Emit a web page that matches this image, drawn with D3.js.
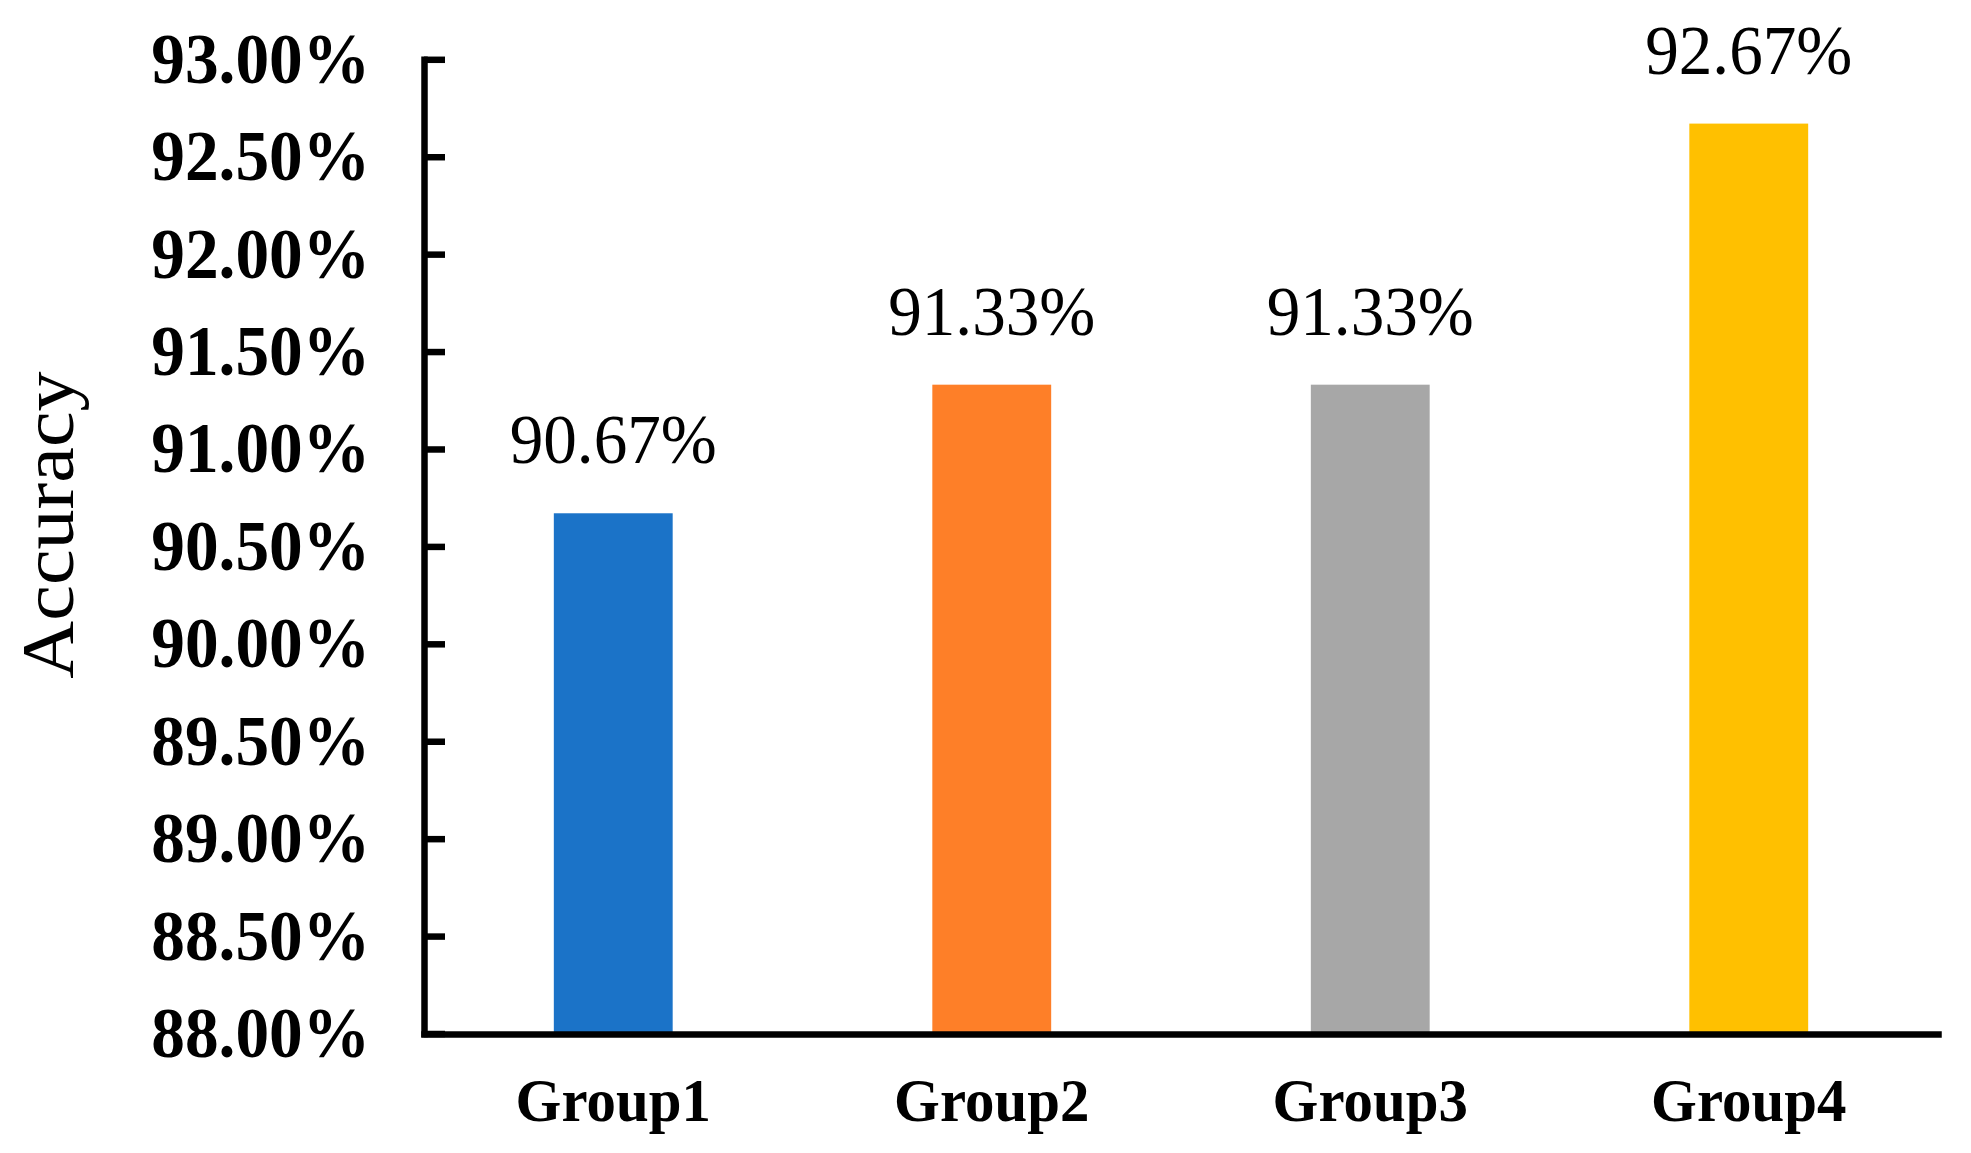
<!DOCTYPE html>
<html>
<head>
<meta charset="utf-8">
<script src="https://cdn.jsdelivr.net/npm/d3@7"></script>
<style>
  html, body { margin: 0; padding: 0; background: #fff; }
  svg { display: block; }
  text { font-family: "Liberation Serif", "Times New Roman", serif; fill: #000; }
</style>
</head>
<body>
<svg id="chart" width="1971" height="1153"></svg>
<script>
const categories = ["Group1", "Group2", "Group3", "Group4"];
const accuracy = [90.67, 91.33, 91.33, 92.67];
const barColors = ["#1b73c8", "#fe7f28", "#a7a7a7", "#ffc000"];
const yTicks = [88.0, 88.5, 89.0, 89.5, 90.0, 90.5, 91.0, 91.5, 92.0, 92.5, 93.0];
const yTickLabels = ["88.00%", "88.50%", "89.00%", "89.50%", "90.00%", "90.50%", "91.00%", "91.50%", "92.00%", "92.50%", "93.00%"];
const valueLabels = ["90.67%", "91.33%", "91.33%", "92.67%"];
const yTitle = "Accuracy";

const svg = d3.select("#chart");
const axisX = 424, axisTop = 59.3, axisBottom = 1033.5, axisRight = 1938;

const y = d3.scaleLinear().domain([88, 93]).range([axisBottom, axisTop]);
const x = d3.scaleBand().domain(categories).range([axisX, axisRight])
  .paddingInner(0.686).paddingOuter(0.343);

// bars
svg.append("g").selectAll("rect").data(categories).join("rect")
  .attr("x", d => x(d))
  .attr("width", x.bandwidth())
  .attr("y", (d, i) => y(accuracy[i]))
  .attr("height", (d, i) => y(88) - y(accuracy[i]))
  .attr("fill", (d, i) => barColors[i]);

// value labels
svg.append("g").selectAll("text").data(categories).join("text")
  .attr("transform", (d, i) => `translate(${x(d) + x.bandwidth() / 2},${y(accuracy[i]) - 50}) scale(0.96,1)`)
  .attr("text-anchor", "middle")
  .attr("font-size", 70)
  .text((d, i) => valueLabels[i]);

// y axis
const yAxis = d3.axisLeft(y)
  .tickValues(yTicks)
  .tickFormat((d, i) => yTickLabels[i])
  .tickSizeInner(-21)
  .tickSizeOuter(0)
  .tickPadding(62);
const gy = svg.append("g").attr("transform", `translate(${axisX},0)`).call(yAxis);
gy.select(".domain").attr("stroke", "#000").attr("stroke-width", 6.5).attr("stroke-linecap", "square");
gy.selectAll(".tick line").attr("stroke", "#000").attr("stroke-width", 6.5);
gy.selectAll(".tick text")
  .attr("x", null).attr("dy", null)
  .attr("transform", "translate(-54,23) scale(0.935,1)")
  .attr("text-anchor", "end")
  .attr("font-family", "'Liberation Serif', 'Times New Roman', serif")
  .attr("font-weight", "bold")
  .attr("font-size", 72);

// x axis
const xAxis = d3.axisBottom(x).tickSize(0).tickSizeOuter(0);
const gx = svg.append("g").attr("transform", `translate(0,${axisBottom + 0.5})`).call(xAxis);
gx.select(".domain").attr("stroke", "#000").attr("stroke-width", 6.5).attr("stroke-linecap", "square");
gx.selectAll(".tick text")
  .attr("y", null).attr("dy", null)
  .attr("transform", "translate(0,87) scale(0.95,1)")
  .attr("text-anchor", "middle")
  .attr("font-family", "'Liberation Serif', 'Times New Roman', serif")
  .attr("font-weight", "bold")
  .attr("font-size", 62);

// y title
svg.append("text")
  .attr("transform", "translate(73,525) scale(1,1.07) rotate(-90)")
  .attr("text-anchor", "middle")
  .attr("font-size", 75)
  .text(yTitle);
</script>
</body>
</html>
